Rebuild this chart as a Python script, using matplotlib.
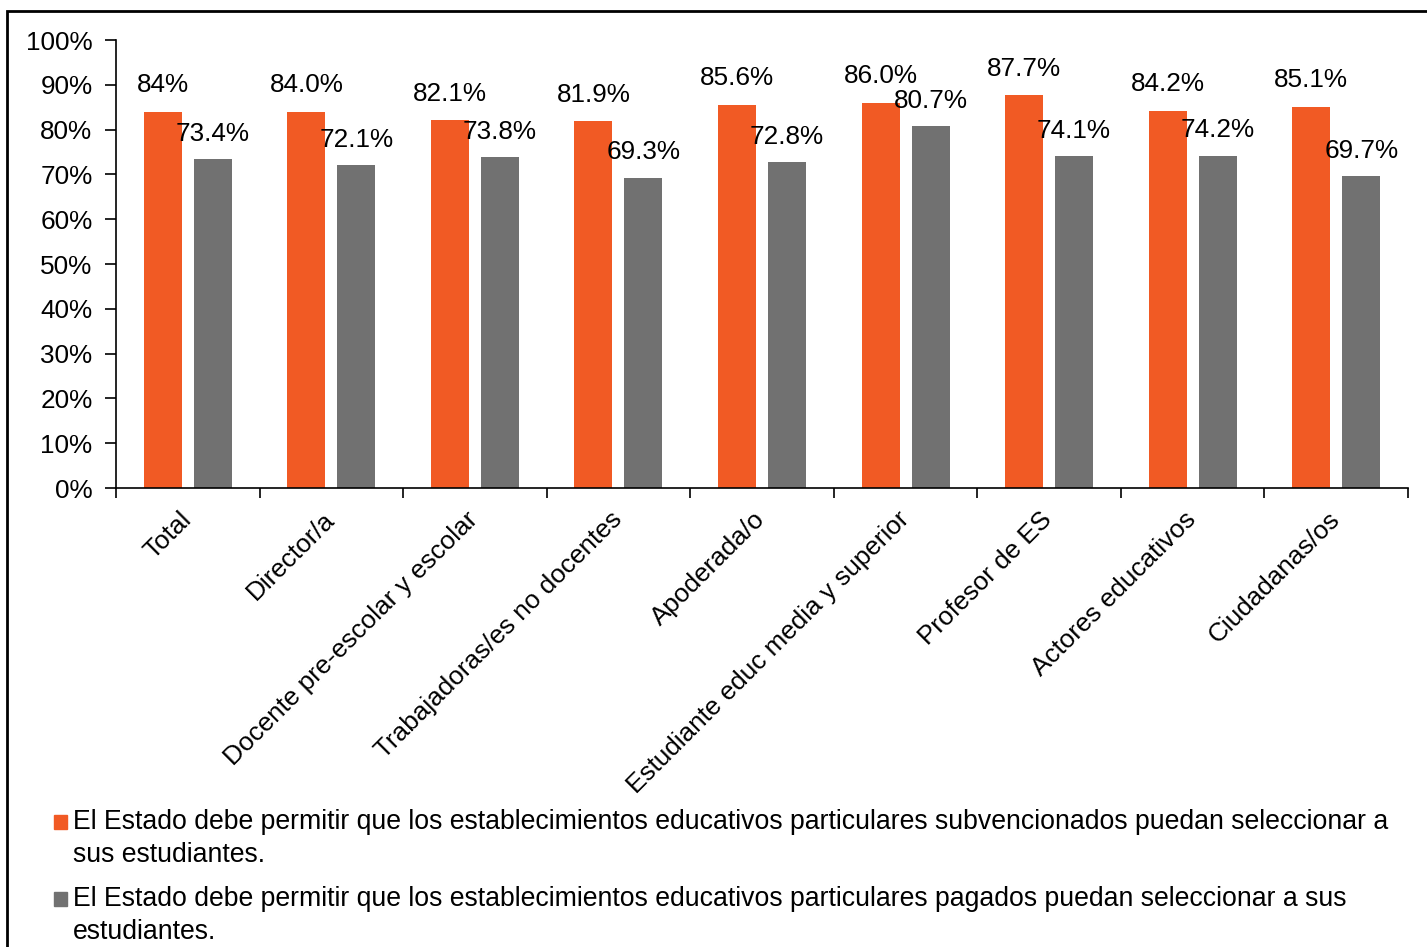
import matplotlib
matplotlib.use("Agg")
import matplotlib.pyplot as plt
from matplotlib.patches import Rectangle
from matplotlib.transforms import ScaledTranslation
import numpy as np

plt.rcParams['font.family'] = ['Liberation Sans', 'DejaVu Sans']

categories = ["Total", "Director/a", "Docente pre-escolar y escolar",
              "Trabajadoras/es no docentes", "Apoderada/o",
              "Estudiante educ media y superior", "Profesor de ES",
              "Actores educativos", "Ciudadanas/os"]
subvencionados = [84.0, 84.0, 82.1, 81.9, 85.6, 86.0, 87.7, 84.2, 85.1]
subvencionados_labels = ["84%", "84.0%", "82.1%", "81.9%", "85.6%", "86.0%", "87.7%", "84.2%", "85.1%"]
pagados = [73.4, 72.1, 73.8, 69.3, 72.8, 80.7, 74.1, 74.2, 69.7]
pagados_labels = ["73.4%", "72.1%", "73.8%", "69.3%", "72.8%", "80.7%", "74.1%", "74.2%", "69.7%"]
series_names = [
    "El Estado debe permitir que los establecimientos educativos particulares subvencionados puedan seleccionar a\nsus estudiantes.",
    "El Estado debe permitir que los establecimientos educativos particulares pagados puedan seleccionar a sus\nestudiantes.",
]
yticks = [0, 10, 20, 30, 40, 50, 60, 70, 80, 90, 100]

ORANGE = "#F15A24"
GRAY = "#717171"
FS = 18.8

W, H = 1427, 947
fig = plt.figure(figsize=(W / 100, H / 100), dpi=100)

# outer frame
fig.patches.append(Rectangle((7 / W, -0.01), 1.0, 1 - 11 / H + 0.01, transform=fig.transFigure,
                             fill=False, edgecolor="black", linewidth=2))

ax = fig.add_axes([116 / W, 1 - 488 / H, (1408 - 116) / W, (488 - 40) / H])
n = len(categories)
x = np.arange(n)
off = 0.174
bw = 0.265
ax.bar(x - off, subvencionados, width=bw, color=ORANGE)
ax.bar(x + off, pagados, width=bw, color=GRAY)

for i in range(n):
    ax.text(x[i] - off, subvencionados[i] + 5.9, subvencionados_labels[i], ha="center", va="center", fontsize=FS)
    ax.text(x[i] + off, pagados[i] + 5.6, pagados_labels[i], ha="center", va="center", fontsize=FS)

ax.set_xlim(-0.5, n - 0.5)
ax.set_ylim(0, 100)
ax.set_yticks(yticks)
ax.set_yticklabels([f"{v}%" for v in yticks], fontsize=FS)
ax.set_xticks(np.arange(n + 1) - 0.5)
ax.set_xticklabels([])
ax.set_xticks(x, minor=True)
ax.set_xticklabels(categories, minor=True, rotation=45, ha="right", rotation_mode="anchor", fontsize=FS)
ax.tick_params(axis="x", which="minor", length=0, pad=14)
ax.tick_params(axis="x", which="major", length=7, width=1.2, direction="out")
ax.tick_params(axis="y", length=8, width=1.2, direction="out", pad=9)
shift = ScaledTranslation(-9 / 100, 0, fig.dpi_scale_trans)
for lbl in ax.get_xticklabels(minor=True):
    lbl.set_transform(lbl.get_transform() + shift)
for s in ["top", "right"]:
    ax.spines[s].set_visible(False)
ax.spines["left"].set_linewidth(1.2)
ax.spines["bottom"].set_linewidth(1.2)

# legend (manual)
FSL = 19.2
leg_y = [822, 899]
for color, name, yy in zip([ORANGE, GRAY], series_names, leg_y):
    fig.patches.append(Rectangle((54 / W, 1 - (yy + 7) / H), 13 / W, 14 / H,
                                 transform=fig.transFigure, color=color))
    fig.text(73 / W, 1 - (yy - 13) / H, name, ha="left", va="top", fontsize=FSL, linespacing=1.37)

fig.savefig("out.png", dpi=100)
